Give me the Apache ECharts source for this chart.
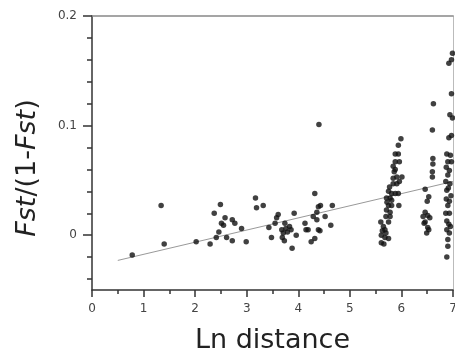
<!DOCTYPE html>
<html><head><meta charset="utf-8">
<script src="https://cdn.jsdelivr.net/npm/echarts@6/dist/echarts.min.js"></script>
<style>html,body{margin:0;padding:0;background:#fff}#c{width:455px;height:356px}</style>
</head><body><div id="c"></div><script>
// Tick values
const xMajorTicks = [0, 1, 2, 3, 4, 5, 6, 7];
const xMinorTicks = [0.5, 1.5, 2.5, 3.5, 4.5, 5.5, 6.5];
const yMajorTicks = [0, 0.1, 0.2];
const yMinorTicks = [-0.04, -0.02, 0.02, 0.04, 0.06, 0.08, 0.12, 0.14, 0.16, 0.18];

// Regression line end points [Ln distance, Fst/(1-Fst)]
const regressionLine = [[0.5, -0.023], [7, 0.049]];

// Observed pairs [Ln distance, Fst/(1-Fst)], grouped by distance class
const groupA = [[0.78,-0.018],[1.34,0.027],[1.40,-0.008],[2.02,-0.006],[2.29,-0.008]];
const groupB = [[2.37,0.020],[2.49,0.028],[2.41,-0.002],[2.46,0.003],[2.51,0.011],[2.55,0.009],[2.58,0.016],[2.61,-0.002],[2.72,0.014],[2.77,0.011],[2.72,-0.005],[2.90,0.006],[2.99,-0.006]];
const groupC = [[3.17,0.034],[3.19,0.025],[3.32,0.027],[3.43,0.007],[3.48,-0.002],[3.55,0.011],[3.58,0.016],[3.61,0.019]];
const groupD = [[3.68,0.005],[3.71,0.002],[3.74,0.011],[3.76,0.006],[3.79,0.003],[3.69,-0.002],[3.73,-0.005],[3.83,0.008],[3.86,0.005],[3.88,-0.012],[3.92,0.020],[3.96,0.000]];
const groupE = [[4.13,0.011],[4.15,0.005],[4.19,0.005],[4.25,-0.006],[4.32,0.038],[4.32,-0.003],[4.29,0.017],[4.36,0.021],[4.39,0.026],[4.43,0.027],[4.36,0.014],[4.39,0.005],[4.42,0.004],[4.52,0.017],[4.40,0.101],[4.66,0.027],[4.63,0.009]];
const groupF = [[5.99,0.088],[5.94,0.082],[5.88,0.074],[5.94,0.074],[5.96,0.067],[5.88,0.067],[5.84,0.063],[5.88,0.060],[5.91,0.053],[5.84,0.052],[6.01,0.053],[5.84,0.047],[5.91,0.047],[5.96,0.049],[5.75,0.040],[5.81,0.038],[5.88,0.038],[5.94,0.038],[5.71,0.034],[5.78,0.034],[5.81,0.032],[5.75,0.027],[5.81,0.027],[5.95,0.027],[5.71,0.023],[5.78,0.021],[5.70,0.017],[5.78,0.017],[5.75,0.012],[5.60,0.012],[5.65,0.008],[5.68,0.005],[5.61,0.000],[5.68,-0.002],[5.75,-0.003],[5.61,-0.007],[5.66,-0.008],[5.72,0.030],[5.77,0.044],[5.86,0.058],[5.63,0.004],[5.70,0.002]];
const groupG = [[6.62,0.120],[6.60,0.096],[6.61,0.070],[6.61,0.065],[6.60,0.058],[6.60,0.053],[6.46,0.042],[6.53,0.035],[6.50,0.031],[6.46,0.021],[6.51,0.018],[6.42,0.017],[6.55,0.016],[6.46,0.012],[6.51,0.007],[6.53,0.005],[6.44,0.011],[6.49,0.002]];
const groupH = [[6.99,0.166],[6.92,0.157],[6.97,0.160],[6.97,0.129],[6.94,0.110],[6.99,0.107],[6.92,0.089],[6.97,0.091],[6.88,0.074],[6.95,0.073],[6.90,0.067],[6.97,0.067],[6.87,0.062],[6.93,0.059],[6.90,0.055],[6.86,0.049],[6.94,0.047],[6.91,0.043],[6.88,0.041],[6.96,0.036],[6.87,0.033],[6.93,0.031],[6.90,0.027],[6.86,0.020],[6.93,0.020],[6.88,0.013],[6.92,0.010],[6.95,0.008],[6.88,0.005],[6.93,0.002],[6.90,-0.004],[6.90,-0.010],[6.88,-0.020]];

const points = [].concat(groupA, groupB, groupC, groupD, groupE, groupF, groupG, groupH);

const FONT = 'DejaVu Sans';
const axisColor = '#333';
const chart = echarts.init(document.getElementById('c'), null, {renderer: 'canvas'});
chart.setOption({
  animation: false,
  backgroundColor: '#fff',
  grid: {left: 92, right: 2, top: 16, bottom: 66, outerBoundsMode: 'none', containLabel: false},
  xAxis: [
    {type: 'value', min: 0, max: 7, position: 'bottom',
     name: 'Ln distance', nameLocation: 'middle', nameGap: 37,
     nameTextStyle: {fontFamily: FONT, fontSize: 27, color: '#222'},
     axisLine: {show: true, onZero: false, lineStyle: {color: axisColor, width: 1.5}},
     axisTick: {show: true, customValues: xMajorTicks, length: 7, lineStyle: {color: axisColor, width: 1.5}},
     axisLabel: {show: true, customValues: xMajorTicks, margin: 13, fontFamily: FONT, fontSize: 12, color: '#444',
       formatter: v => String(v)},
     splitLine: {show: false}},
    {type: 'value', min: 0, max: 7, position: 'bottom', offset: 0,
     axisLine: {show: false, onZero: false},
     axisTick: {show: true, customValues: xMinorTicks, length: 4, lineStyle: {color: axisColor, width: 1.5}},
     axisLabel: {show: false}, splitLine: {show: false}},
    {type: 'value', min: 0, max: 7, position: 'top',
     axisLine: {show: true, onZero: false, lineStyle: {color: '#888', width: 1.5}},
     axisTick: {show: false}, axisLabel: {show: false}, splitLine: {show: false}}
  ],
  yAxis: [
    {type: 'value', min: -0.05, max: 0.2, position: 'left',
     axisLine: {show: true, onZero: false, lineStyle: {color: axisColor, width: 1.5}},
     axisTick: {show: true, customValues: yMajorTicks, length: 9, lineStyle: {color: axisColor, width: 1.5}},
     axisLabel: {show: true, customValues: yMajorTicks, margin: 15, fontFamily: FONT, fontSize: 12, color: '#444',
       formatter: v => (v === 0 ? '0' : String(Math.round(v * 10) / 10))},
     splitLine: {show: false}},
    {type: 'value', min: -0.05, max: 0.2, position: 'left', offset: 0,
     axisLine: {show: false, onZero: false},
     axisTick: {show: true, customValues: yMinorTicks, length: 5, lineStyle: {color: axisColor, width: 1.5}},
     axisLabel: {show: false}, splitLine: {show: false}},
    {type: 'value', min: -0.05, max: 0.2, position: 'right',
     axisLine: {show: true, onZero: false, lineStyle: {color: '#bbb', width: 1}},
     axisTick: {show: false}, axisLabel: {show: false}, splitLine: {show: false}}
  ],
  graphic: [{
    type: 'text', x: 28, y: 168, rotation: Math.PI / 2,
    style: {
      text: '{i|Fst}/(1-{i|Fst})',
      x: 0, y: 0, align: 'center', verticalAlign: 'middle',
      fontFamily: FONT, fontSize: 27, fill: '#222',
      rich: {i: {fontFamily: FONT, fontSize: 27, fontStyle: 'italic', color: '#222'}}
    }
  }],
  series: [
    {type: 'line', data: regressionLine, xAxisIndex: 0, yAxisIndex: 0, symbol: 'none',
     lineStyle: {color: '#999', width: 1}, silent: true, z: 1},
    {type: 'scatter', data: points, xAxisIndex: 0, yAxisIndex: 0, symbol: 'circle', symbolSize: 5.5,
     clip: false, itemStyle: {color: '#111'}, z: 2}
  ]
});
</script></body></html>
